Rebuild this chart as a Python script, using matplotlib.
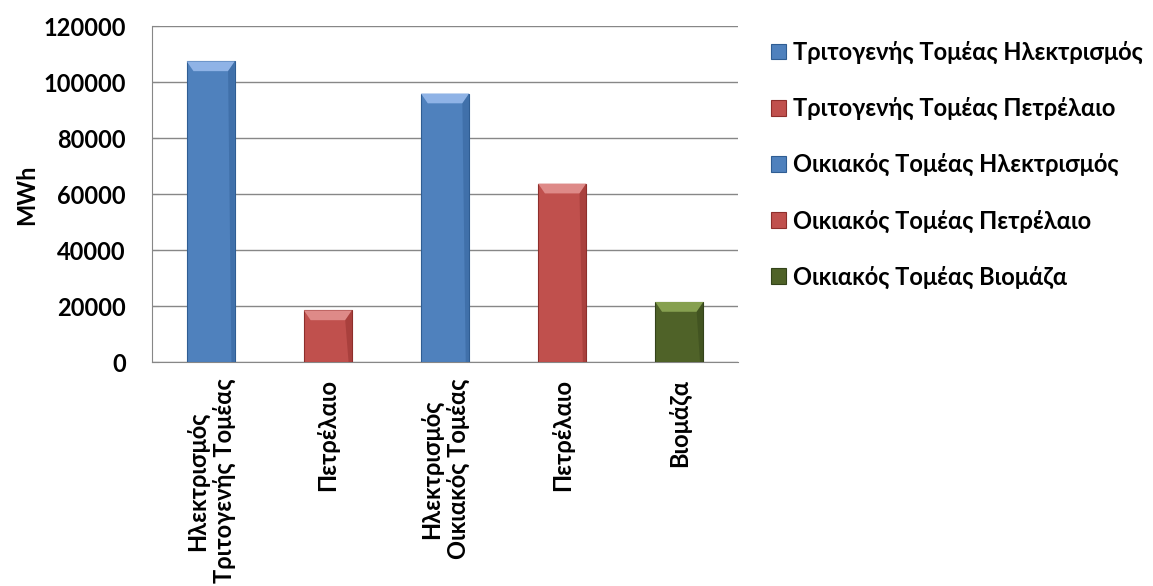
import matplotlib.pyplot as plt
from matplotlib.patches import Polygon

plt.rcParams['font.family'] = ['Lato', 'DejaVu Sans']
plt.rcParams['font.weight'] = 'bold'
plt.rcParams['axes.labelweight'] = 'bold'

categories = ['Ηλεκτρισμός\nΤριτογενής Τομέας', 'Πετρέλαιο',
              'Ηλεκτρισμός\nΟικιακός Τομέας', 'Πετρέλαιο', 'Βιομάζα']
series = ['Τριτογενής Τομέας Ηλεκτρισμός', 'Τριτογενής Τομέας Πετρέλαιο',
          'Οικιακός Τομέας Ηλεκτρισμός', 'Οικιακός Τομέας Πετρέλαιο',
          'Οικιακός Τομέας Βιομάζα']
values = [107500, 18500, 96000, 63800, 21500]
colors = ['#4F81BD', '#C0504D', '#4F81BD', '#C0504D', '#4F6228']
lights = ['#8FB3E6', '#DE8A88', '#8FB3E6', '#DE8A88', '#86A050']
darks = ['#2F5D93', '#8E2E2B', '#2F5D93', '#8E2E2B', '#33431A']

fs = 17

fig = plt.figure(figsize=(11.53, 5.86), dpi=100)
ax = fig.add_axes([0.132, 0.382, 0.508, 0.573])

for i, (name, v) in enumerate(zip(series, values)):
    bars = ax.bar(i, v, width=0.41, color=colors[i], edgecolor=darks[i],
                  linewidth=0.8, label=name, zorder=3)
    # simple bevel on top of the bar
    b = bars[0]
    x0, x1 = b.get_x(), b.get_x() + b.get_width()
    top = b.get_height()
    dx = b.get_width() * 0.14
    dy = 3500
    ax.add_patch(Polygon([(x0, top), (x1, top), (x1 - dx, top - dy), (x0 + dx, top - dy)],
                         closed=True, facecolor=lights[i], edgecolor='none', zorder=4))
    ax.add_patch(Polygon([(x1, top), (x1, 0), (x1 - dx * 0.5, 0), (x1 - dx, top - dy)],
                         closed=True, facecolor=darks[i], edgecolor='none', alpha=0.45, zorder=4))

ax.set_ylim(0, 120000)
ax.set_xlim(-0.5, 4.5)
ax.set_yticks(range(0, 120001, 20000))
ax.set_xticks(range(len(categories)))
ax.set_xticklabels(categories, rotation=90, multialignment='center',
                   fontsize=fs, fontweight='bold')
for t in ax.get_yticklabels():
    t.set_fontweight('bold')
ax.tick_params(axis='y', labelsize=fs, length=5, direction='in', color='#878787', pad=19)
ax.tick_params(axis='x', length=0, pad=12)
ax.set_ylabel('MWh', fontsize=fs, fontweight='bold', labelpad=4)

ax.grid(axis='y', color='#878787', linewidth=1.0, zorder=0)
for s in ['top', 'right']:
    ax.spines[s].set_visible(False)
for s in ['left', 'bottom']:
    ax.spines[s].set_color('#878787')

leg = ax.legend(loc='upper left', bbox_to_anchor=(1.04, 0.985), frameon=False,
                prop={'size': fs, 'weight': 'bold'}, handlelength=0.65, handleheight=0.65,
                handletextpad=0.3, labelspacing=1.4, borderaxespad=0)

fig.savefig('out.png', dpi=100)
